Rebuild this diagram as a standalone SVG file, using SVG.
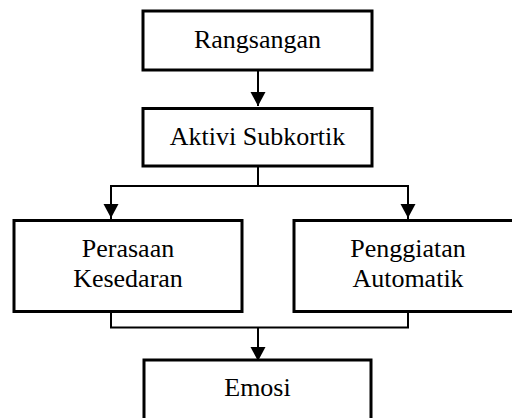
<svg xmlns="http://www.w3.org/2000/svg" width="512" height="418" viewBox="0 0 512 418">
<style>
.box{fill:#fff;stroke:#000;stroke-width:3}
.lbl{font-family:"Liberation Serif","Times New Roman",serif;font-size:26px;fill:#000;text-anchor:middle}
.con{fill:none;stroke:#000;stroke-width:2}
</style>
<defs>
<marker id="ah" markerUnits="userSpaceOnUse" markerWidth="15" markerHeight="16" refX="14" refY="7.5" orient="auto" viewBox="0 0 15 15">
<path d="M0,0 L14,7.5 L0,15 z" fill="#000"/>
</marker>
</defs>
<rect width="512" height="418" fill="#fff"/>
<g id="connectors">
<line class="con" x1="258" y1="70" x2="258" y2="106" marker-end="url(#ah)"/>
<polyline class="con" points="258,166 258,186"/>
<polyline class="con" points="111,219 111,186 408,186 408,219"/>
<line class="con" x1="111" y1="186" x2="111" y2="218" marker-end="url(#ah)"/>
<line class="con" x1="408" y1="186" x2="408" y2="218" marker-end="url(#ah)"/>
<polyline class="con" points="111,311 111,327.5 408,327.5 408,311"/>
<line class="con" x1="258" y1="327.5" x2="258" y2="361" marker-end="url(#ah)"/>
</g>
<g id="rangsangan">
<rect class="box" x="143" y="11" width="229" height="59"/>
<text class="lbl" x="257.5" y="48">Rangsangan</text>
</g>
<g id="aktivi">
<rect class="box" x="143" y="108.5" width="229" height="57.5"/>
<text class="lbl" x="257.5" y="145">Aktivi Subkortik</text>
</g>
<g id="perasaan">
<rect class="box" x="14" y="220.5" width="228" height="91"/>
<text class="lbl" x="128" y="257">Perasaan</text>
<text class="lbl" x="128" y="287">Kesedaran</text>
</g>
<g id="penggiatan">
<rect class="box" x="294" y="220.5" width="228" height="91"/>
<text class="lbl" x="408" y="257">Penggiatan</text>
<text class="lbl" x="408" y="287">Automatik</text>
</g>
<g id="emosi">
<rect class="box" x="144" y="360" width="227" height="70"/>
<text class="lbl" x="257.5" y="396">Emosi</text>
</g>
</svg>
